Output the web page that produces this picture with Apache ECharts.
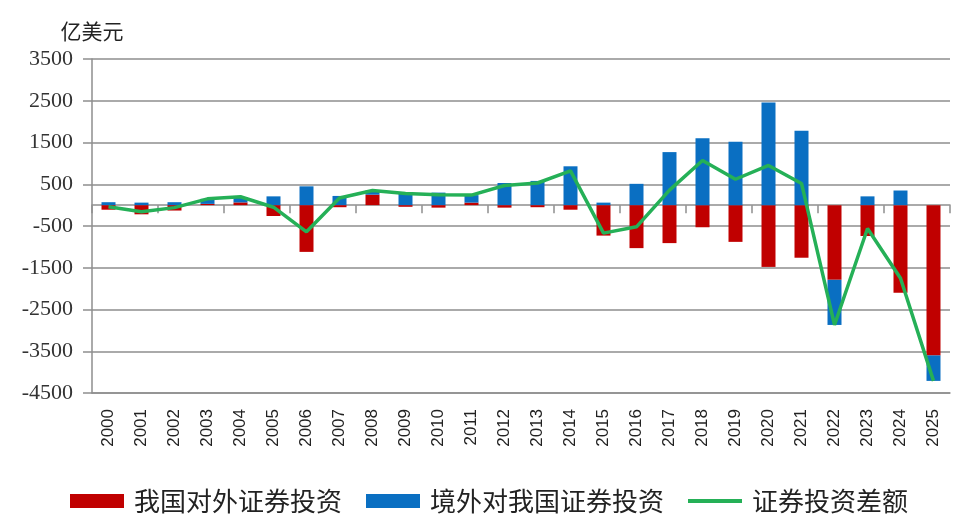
<!DOCTYPE html>
<html lang="zh-CN" style="height: 100%">
<head>
  <meta charset="utf-8">
</head>
<body style="height: 100%; margin: 0">
  <div id="container" style="width: 953px; height: 514px"></div>

  <script src="https://fastly.jsdelivr.net/npm/echarts@6.0.0/dist/echarts.min.js" type="text/javascript"></script>

  <script>
    // 数据（亿美元）
    var years = ['2000', '2001', '2002', '2003', '2004', '2005', '2006', '2007', '2008', '2009',
      '2010', '2011', '2012', '2013', '2014', '2015', '2016', '2017', '2018', '2019',
      '2020', '2021', '2022', '2023', '2024', '2025'];
    // 我国对外证券投资
    var outward = [-110, -220, -130, 30, 65, -260, -1120, -50, 250, -40,
      -60, 60, -60, -50, -110, -730, -1030, -910, -530, -880,
      -1480, -1260, -1790, -740, -2100, -3600];
    // 境外对我国证券投资
    var inward = [70, 60, 70, 120, 130, 210, 450, 220, 100, 310,
      300, 180, 530, 580, 930, 60, 510, 1270, 1600, 1520,
      2460, 1780, -1080, 210, 350, -610];
    // 证券投资差额
    var netFlow = [-40, -160, -60, 150, 200, -50, -640, 170, 350, 280,
      250, 240, 470, 530, 820, -670, -520, 360, 1070, 620,
      950, 520, -2870, -560, -1750, -4210];
    var yTicks = { min: -4500, max: 3500, interval: 1000 };

    var dom = document.getElementById('container');
    var myChart = echarts.init(dom, null, { renderer: 'canvas' });

    var cjk = '"Noto Sans CJK SC", sans-serif';
    var gridGray = '#8e8e8e';

    var option = {
      animation: false,
      backgroundColor: '#fff',
      color: ['#c00000', '#0a6fc2', '#25b057'],
      grid: { left: 92, right: 3, top: 59, bottom: 121, containLabel: false },
      legend: {
        left: 65,
        top: 483,
        itemWidth: 54,
        itemHeight: 14,
        itemGap: 24,
        textStyle: { fontFamily: cjk, fontSize: 26, color: '#222', padding: [0, 0, 0, 5] },
        data: [
          { name: '我国对外证券投资', icon: 'rect' },
          { name: '境外对我国证券投资', icon: 'rect' },
          { name: '证券投资差额', icon: 'path://M0,0H54V4H0Z' }
        ]
      },
      xAxis: [
        {
          // 底部年份标签
          type: 'category',
          data: years,
          position: 'bottom',
          axisLine: { onZero: false, lineStyle: { color: gridGray, width: 1.5 } },
          axisTick: { show: false },
          axisLabel: {
            rotate: 90,
            margin: 16,
            fontFamily: '"Liberation Sans", Arial, sans-serif',
            fontSize: 17,
            color: '#222'
          }
        },
        {
          // 零值线和刻度
          type: 'category',
          data: years,
          position: 'bottom',
          axisLine: { onZero: true, lineStyle: { color: gridGray, width: 1.5 } },
          axisTick: { show: true, length: 8, lineStyle: { color: gridGray, width: 1.5 } },
          axisLabel: { show: false }
        }
      ],
      yAxis: {
        type: 'value',
        min: yTicks.min,
        max: yTicks.max,
        interval: yTicks.interval,
        name: '亿美元',
        nameLocation: 'end',
        nameGap: 17,
        nameTextStyle: { fontFamily: cjk, fontSize: 21, color: '#222', align: 'center' },
        axisLine: { show: true, lineStyle: { color: gridGray, width: 1.5 } },
        axisTick: { show: true, length: 9, lineStyle: { color: gridGray, width: 1.5 } },
        axisLabel: {
          margin: 19,
          fontFamily: '"Liberation Serif", "Times New Roman", serif',
          fontSize: 22,
          color: '#333',
          formatter: function (v) { return String(v); }
        },
        splitLine: { lineStyle: { color: gridGray, width: 1.5 } }
      },
      series: [
        {
          name: '我国对外证券投资',
          type: 'bar',
          stack: 'flow',
          barWidth: 14,
          data: outward
        },
        {
          name: '境外对我国证券投资',
          type: 'bar',
          stack: 'flow',
          barWidth: 14,
          data: inward
        },
        {
          name: '证券投资差额',
          type: 'line',
          symbol: 'none',
          lineStyle: { width: 3.5, color: '#25b057' },
          z: 5,
          data: netFlow
        }
      ]
    };

    myChart.setOption(option);
    window.addEventListener('resize', myChart.resize);
  </script>
</body>
</html>
